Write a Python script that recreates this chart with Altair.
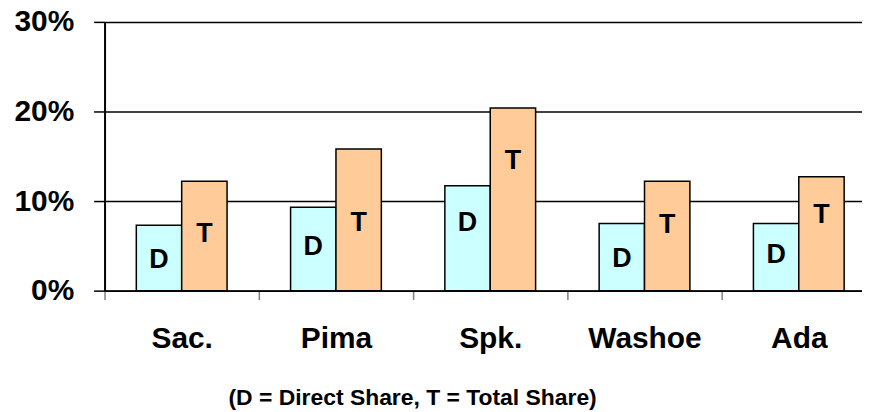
import altair as alt
import pandas as pd

categories = ["Sac.", "Pima", "Spk.", "Washoe", "Ada"]
series = ["D", "T"]
direct_share = [7.3, 9.3, 11.7, 7.5, 7.5]
total_share = [12.2, 15.8, 20.4, 12.2, 12.7]
direct_label_pos = [3.4, 4.9, 7.6, 3.5, 4.0]
total_label_pos = [6.3, 7.6, 14.5, 7.3, 8.4]
y_ticks = [0, 10, 20, 30]
subtitle = "(D = Direct Share, T = Total Share)"

rows = []
for i, c in enumerate(categories):
    rows.append({"category": c, "series": "D", "value": direct_share[i], "label_y": direct_label_pos[i]})
    rows.append({"category": c, "series": "T", "value": total_share[i], "label_y": total_label_pos[i]})
df = pd.DataFrame(rows)

FONT = "Liberation Sans"

x_enc = alt.X(
    "category:N",
    sort=categories,
    scale=alt.Scale(range=[0, 775], paddingInner=0, paddingOuter=0),
    axis=alt.Axis(
        title=subtitle,
        titleFont=FONT,
        titleFontSize=23,
        titleFontWeight="bold",
        titleColor="black",
        titleX=309,
        titleY=96,
        titleAlign="center",
        titleBaseline="top",
        labelAngle=0,
        labelFont=FONT,
        labelFontSize=30,
        labelFontWeight="bold",
        labelColor="black",
        labelPadding=24,
        tickBand="extent",
        tickSize=9,
        tickColor="#808080",
        tickWidth=1.5,
        domainColor="black",
        domainWidth=2,
        grid=False,
    ),
)
xoff = alt.XOffset("series:N", sort=series, scale=alt.Scale(paddingInner=0, paddingOuter=0.7))

y_scale = alt.Scale(domain=[0, 30], nice=False)
y_axis = alt.Axis(
    values=y_ticks,
    labelExpr="datum.value + '%'",
    title=None,
    grid=True,
    gridColor="black",
    gridWidth=1.5,
    tickSize=11,
    tickColor="black",
    tickWidth=1.5,
    domainColor="black",
    domainWidth=2,
    labelFont=FONT,
    labelFontSize=30,
    labelFontWeight="bold",
    labelColor="black",
    labelPadding=20,
)

bars = alt.Chart(df).mark_bar(stroke="black", strokeWidth=1.5).encode(
    x=x_enc,
    xOffset=xoff,
    y=alt.Y("value:Q", scale=y_scale, axis=y_axis),
    color=alt.Color("series:N", scale=alt.Scale(domain=series, range=["#CCFFFF", "#FFCC99"]), legend=None),
)

labels = alt.Chart(df).mark_text(
    font=FONT, fontSize=27, fontWeight="bold", color="black", align="center", baseline="middle"
).encode(
    x=x_enc,
    xOffset=xoff,
    y=alt.Y("label_y:Q", scale=y_scale, axis=y_axis),
    text="series:N",
)

chart = (
    alt.layer(bars, labels)
    .properties(
        width=761,
        height=270,
        autosize=alt.AutoSizeParams(type="none"),
        padding={"left": 97, "top": 13, "right": 0, "bottom": 125},
    )
    .configure_view(stroke=None)
)

chart.save("out.html", embed_options={"renderer": "svg", "actions": False})
